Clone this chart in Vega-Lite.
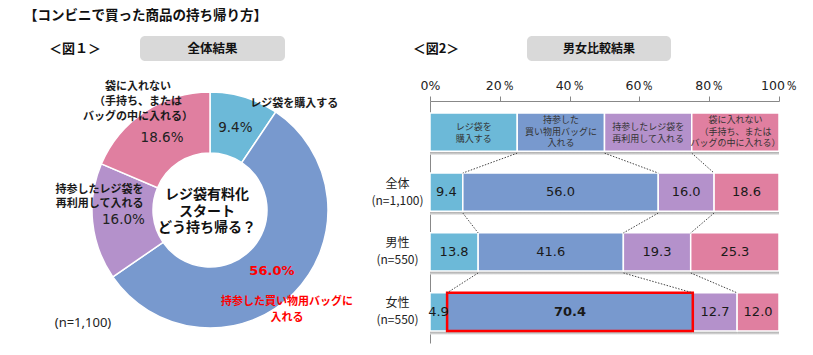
{
  "$schema": "https://vega.github.io/schema/vega-lite/v6.json",
  "background": "white",
  "padding": {"left": 10, "top": 8, "right": 5, "bottom": 5},
  "title": {"text": "【コンビニで買った商品の持ち帰り方】", "anchor": "start", "frame": "group", "font": "Noto Sans CJK JP", "fontSize": 13.5, "fontWeight": "bold", "color": "#111", "offset": 14, "dx": 14},
  "bounds": "flush",
  "spacing": 65,
  "vconcat": [
    {
      "hconcat": [
        {
          "width": 130, "height": 25,
          "data": {"values": [{"t": "＜図１＞"}]},
          "mark": {"type": "text", "font": "Noto Sans CJK JP", "fontSize": 13, "fontWeight": "bold", "color": "#111"},
          "encoding": {"text": {"field": "t", "type": "nominal"}}
        },
        {
          "width": 145, "height": 25,
          "data": {"values": [{"t": "全体結果"}]},
          "layer": [
            {"mark": {"type": "rect", "fill": "#d9d9d9", "cornerRadius": 5},
             "encoding": {"x": {"value": 0}, "x2": {"value": "width"}, "y": {"value": 0}, "y2": {"value": "height"}}},
            {"mark": {"type": "text", "font": "Noto Sans CJK JP", "fontSize": 12.5, "fontWeight": "bold", "color": "#111"},
             "encoding": {"text": {"field": "t", "type": "nominal"}}}
          ]
        },
        {
          "width": 242, "height": 25,
          "data": {"values": [{"t": "＜図2＞"}]},
          "mark": {"type": "text", "font": "Noto Sans CJK JP", "fontSize": 13, "fontWeight": "bold", "color": "#111", "dx": 30},
          "encoding": {"text": {"field": "t", "type": "nominal"}}
        },
        {
          "width": 144, "height": 25,
          "data": {"values": [{"t": "男女比較結果"}]},
          "layer": [
            {"mark": {"type": "rect", "fill": "#d9d9d9", "cornerRadius": 5},
             "encoding": {"x": {"value": 0}, "x2": {"value": "width"}, "y": {"value": 0}, "y2": {"value": "height"}}},
            {"mark": {"type": "text", "font": "Noto Sans CJK JP", "fontSize": 12, "fontWeight": "bold", "color": "#111"},
             "encoding": {"text": {"field": "t", "type": "nominal"}}}
          ]
        }
      ],
      "spacing": 0,
      "bounds": "flush"
    },
    {
      "hconcat": [
        {
          "width": 400, "height": 218,
          "data": {"values": [
            {"cat": "レジ袋を購入する", "k": 1, "value": 9.4, "lbl": "レジ袋を購入する"},
            {"cat": "持参した買い物用バッグに入れる", "k": 2, "value": 56.0, "lbl": "持参した買い物用バッグに\n入れる"},
            {"cat": "持参したレジ袋を再利用して入れる", "k": 3, "value": 16.0, "lbl": "持参したレジ袋を\n再利用して入れる"},
            {"cat": "袋に入れない（手持ち、またはバッグの中に入れる）", "k": 4, "value": 18.6, "lbl": "袋に入れない\n（手持ち、または\nバッグの中に入れる）"}
          ]},
          "transform": [{"calculate": "format(datum.value, '.1f') + '%'", "as": "pct"}],
          "layer": [
            {
              "mark": {"type": "arc", "innerRadius": 57, "outerRadius": 118, "stroke": "white", "strokeWidth": 1.5},
              "encoding": {
                "theta": {"field": "value", "type": "quantitative", "stack": true},
                "order": {"field": "k", "type": "quantitative"},
                "color": {"field": "cat", "type": "nominal", "legend": null,
                  "scale": {"domain": ["レジ袋を購入する", "持参した買い物用バッグに入れる", "持参したレジ袋を再利用して入れる", "袋に入れない（手持ち、またはバッグの中に入れる）"],
                            "range": ["#6CB9D8", "#7899CE", "#B491CB", "#E07FA0"]}}
              }
            },
            {
              "mark": {"type": "text", "radius": 87, "font": "DejaVu Sans", "fontSize": 13.5, "color": "#222", "align": "center", "baseline": "middle", "dy": 1},
              "encoding": {
                "theta": {"field": "value", "type": "quantitative", "stack": true},
                "order": {"field": "k", "type": "quantitative"},
                "detail": {"field": "cat", "type": "nominal"},
                "text": {"condition": {"test": "datum.k != 2", "field": "pct", "type": "nominal"}, "value": ""}
              }
            },
            {
              "mark": {"type": "text", "radius": 87, "font": "DejaVu Sans", "fontSize": 13, "fontWeight": "bold", "color": "#ff0000", "align": "center", "baseline": "middle"},
              "encoding": {
                "theta": {"field": "value", "type": "quantitative", "stack": true},
                "order": {"field": "k", "type": "quantitative"},
                "detail": {"field": "cat", "type": "nominal"},
                "text": {"condition": {"test": "datum.k == 2", "field": "pct", "type": "nominal"}, "value": ""}
              }
            },
            {
              "mark": {"type": "text", "radius": 87, "font": "Noto Sans CJK JP", "fontSize": 11, "fontWeight": "bold", "color": "#1a1a1a", "align": "left", "baseline": "middle", "dx": 15, "dy": -23, "lineBreak": "\n"},
              "encoding": {
                "theta": {"field": "value", "type": "quantitative", "stack": true},
                "order": {"field": "k", "type": "quantitative"},
                "detail": {"field": "cat", "type": "nominal"},
                "text": {"condition": {"test": "datum.k == 1", "field": "lbl", "type": "nominal"}, "value": ""}
              }
            },
            {
              "mark": {"type": "text", "radius": 87, "font": "Noto Sans CJK JP", "fontSize": 11, "fontWeight": "bold", "color": "#ff0000", "align": "center", "baseline": "top", "dx": 15, "dy": 25, "lineHeight": 16, "lineBreak": "\n"},
              "encoding": {
                "theta": {"field": "value", "type": "quantitative", "stack": true},
                "order": {"field": "k", "type": "quantitative"},
                "detail": {"field": "cat", "type": "nominal"},
                "text": {"condition": {"test": "datum.k == 2", "field": "lbl", "type": "nominal"}, "value": ""}
              }
            },
            {
              "mark": {"type": "text", "radius": 87, "font": "Noto Sans CJK JP", "fontSize": 11, "fontWeight": "bold", "color": "#1a1a1a", "align": "right", "baseline": "middle", "dx": 20, "dy": -29, "lineHeight": 14, "lineBreak": "\n"},
              "encoding": {
                "theta": {"field": "value", "type": "quantitative", "stack": true},
                "order": {"field": "k", "type": "quantitative"},
                "detail": {"field": "cat", "type": "nominal"},
                "text": {"condition": {"test": "datum.k == 3", "field": "lbl", "type": "nominal"}, "value": ""}
              }
            },
            {
              "mark": {"type": "text", "radius": 87, "font": "Noto Sans CJK JP", "fontSize": 11, "fontWeight": "bold", "color": "#1a1a1a", "align": "center", "baseline": "middle", "dx": -24, "dy": -50, "lineHeight": 15, "lineBreak": "\n"},
              "encoding": {
                "theta": {"field": "value", "type": "quantitative", "stack": true},
                "order": {"field": "k", "type": "quantitative"},
                "detail": {"field": "cat", "type": "nominal"},
                "text": {"condition": {"test": "datum.k == 4", "field": "lbl", "type": "nominal"}, "value": ""}
              }
            },
            {
              "data": {"values": [{"t": "レジ袋有料化\nスタート\nどう持ち帰る？"}]},
              "mark": {"type": "text", "font": "Noto Sans CJK JP", "fontSize": 14, "fontWeight": "bold", "color": "#111", "align": "center", "baseline": "middle", "dx": -3, "dy": -15, "lineHeight": 16.5, "lineBreak": "\n"},
              "encoding": {"text": {"field": "t", "type": "nominal"}}
            },
            {
              "data": {"values": [{"t": "(n=1,100)"}]},
              "mark": {"type": "text", "font": "Noto Sans", "fontSize": 13, "color": "#222", "align": "center", "baseline": "middle", "dx": -127, "dy": 113},
              "encoding": {"text": {"field": "t", "type": "nominal"}}
            }
          ]
        },
        {
          "width": 349, "height": 242,
          "data": {"values": [
            {"row": "header", "cat": "レジ袋を購入する", "k": 1, "value": 25, "hl": "レジ袋を\n購入する"},
            {"row": "header", "cat": "持参した買い物用バッグに入れる", "k": 2, "value": 25, "hl": "持参した\n買い物用バッグに\n入れる"},
            {"row": "header", "cat": "持参したレジ袋を再利用して入れる", "k": 3, "value": 25, "hl": "持参したレジ袋を\n再利用して入れる"},
            {"row": "header", "cat": "袋に入れない（手持ち、またはバッグの中に入れる）", "k": 4, "value": 25, "hl": "袋に入れない\n（手持ち、または\nバッグの中に入れる）"},
            {"row": "全体", "cat": "レジ袋を購入する", "k": 1, "value": 9.4},
            {"row": "全体", "cat": "持参した買い物用バッグに入れる", "k": 2, "value": 56.0},
            {"row": "全体", "cat": "持参したレジ袋を再利用して入れる", "k": 3, "value": 16.0},
            {"row": "全体", "cat": "袋に入れない（手持ち、またはバッグの中に入れる）", "k": 4, "value": 18.6},
            {"row": "男性", "cat": "レジ袋を購入する", "k": 1, "value": 13.8},
            {"row": "男性", "cat": "持参した買い物用バッグに入れる", "k": 2, "value": 41.6},
            {"row": "男性", "cat": "持参したレジ袋を再利用して入れる", "k": 3, "value": 19.3},
            {"row": "男性", "cat": "袋に入れない（手持ち、またはバッグの中に入れる）", "k": 4, "value": 25.3},
            {"row": "女性", "cat": "レジ袋を購入する", "k": 1, "value": 4.9},
            {"row": "女性", "cat": "持参した買い物用バッグに入れる", "k": 2, "value": 70.4},
            {"row": "女性", "cat": "持参したレジ袋を再利用して入れる", "k": 3, "value": 12.7},
            {"row": "女性", "cat": "袋に入れない（手持ち、またはバッグの中に入れる）", "k": 4, "value": 12.0}
          ]},
          "layer": [
            {
              "mark": {"type": "bar", "yOffset": 3.5,
                "fill": {"gradient": "linear", "x1": 0, "y1": 0, "x2": 0, "y2": 1, "stops": [{"offset": 0, "color": "#999999"}, {"offset": 0.9, "color": "#999999"}, {"offset": 1, "color": "#e0e0e0"}]}},
              "encoding": {
                "y": {"field": "row", "type": "nominal", "scale": {"domain": ["header", "全体", "男性", "女性"], "paddingInner": 0.36, "paddingOuter": 0.2},
                  "axis": {"title": null, "ticks": false, "tickSize": 0, "domainColor": "#888", "labelAlign": "center", "labelBaseline": "middle", "labelPadding": 33, "labelOffset": -8.5,
                    "labelFont": "Noto Sans CJK JP", "labelFontSize": 12, "labelColor": "#222", "labelLineHeight": 17,
                    "labelExpr": "datum.value == 'header' ? '' : (datum.value == '全体' ? ['全体', '(n=1,100)'] : [datum.value, '(n=550)'])"}},
                "x": {"field": "value", "type": "quantitative", "stack": "zero", "scale": {"domain": [0, 100], "nice": false},
                  "axis": {"orient": "top", "title": null, "values": [0, 20, 40, 60, 80, 100], "grid": false, "tickSize": 5, "tickColor": "#888", "domainColor": "#888",
                    "labelPadding": 4, "labelFont": "DejaVu Sans", "labelFontSize": 12.5, "labelColor": "#222", "labelFlush": false,
                    "labelExpr": "datum.value == 0 ? '0%' : datum.value + '％'"}},
                "order": {"field": "k", "type": "quantitative"},
                "detail": {"field": "cat", "type": "nominal"}
              }
            },
            {
              "mark": {"type": "bar", "stroke": "white", "strokeWidth": 1.5},
              "encoding": {
                "y": {"field": "row", "type": "nominal"},
                "x": {"field": "value", "type": "quantitative", "stack": "zero"},
                "order": {"field": "k", "type": "quantitative"},
                "color": {"field": "cat", "type": "nominal", "legend": null,
                  "scale": {"domain": ["レジ袋を購入する", "持参した買い物用バッグに入れる", "持参したレジ袋を再利用して入れる", "袋に入れない（手持ち、またはバッグの中に入れる）"],
                            "range": ["#6CB9D8", "#7899CE", "#B491CB", "#E07FA0"]}}
              }
            },
            {
              "mark": {"type": "bar", "fillOpacity": 0, "stroke": "#ff0000", "strokeWidth": 2.5},
              "encoding": {
                "y": {"field": "row", "type": "nominal"},
                "x": {"field": "value", "type": "quantitative", "stack": "zero"},
                "order": {"field": "k", "type": "quantitative"},
                "detail": {"field": "cat", "type": "nominal"},
                "strokeOpacity": {"condition": {"test": "datum.row == '女性' && datum.k == 2", "value": 1}, "value": 0}
              }
            },
            {
              "mark": {"type": "text", "font": "Noto Sans CJK JP", "fontSize": 9, "color": "#333", "align": "center", "baseline": "middle", "lineHeight": 12, "lineBreak": "\n", "dy": -5},
              "encoding": {
                "y": {"field": "row", "type": "nominal"},
                "x": {"field": "value", "type": "quantitative", "stack": "zero", "bandPosition": 0.5},
                "order": {"field": "k", "type": "quantitative"},
                "detail": {"field": "cat", "type": "nominal"},
                "text": {"condition": {"test": "datum.row == 'header' && (datum.k == 1 || datum.k == 3)", "field": "hl", "type": "nominal"}, "value": ""}
              }
            },
            {
              "mark": {"type": "text", "font": "Noto Sans CJK JP", "fontSize": 9, "color": "#333", "align": "center", "baseline": "middle", "lineHeight": 11.5, "lineBreak": "\n", "dy": -12},
              "encoding": {
                "y": {"field": "row", "type": "nominal"},
                "x": {"field": "value", "type": "quantitative", "stack": "zero", "bandPosition": 0.5},
                "order": {"field": "k", "type": "quantitative"},
                "detail": {"field": "cat", "type": "nominal"},
                "text": {"condition": {"test": "datum.row == 'header' && (datum.k == 2 || datum.k == 4)", "field": "hl", "type": "nominal"}, "value": ""}
              }
            },
            {
              "mark": {"type": "text", "font": "DejaVu Sans", "fontSize": 13, "color": "#1a1a1a", "align": "center", "baseline": "middle"},
              "encoding": {
                "y": {"field": "row", "type": "nominal"},
                "x": {"field": "value", "type": "quantitative", "stack": "zero", "bandPosition": 0.5},
                "order": {"field": "k", "type": "quantitative"},
                "detail": {"field": "cat", "type": "nominal"},
                "text": {"condition": {"test": "datum.row != 'header' && !(datum.row == '女性' && datum.k == 2)", "field": "value", "type": "quantitative", "format": ".1f"}, "value": ""}
              }
            },
            {
              "mark": {"type": "text", "font": "DejaVu Sans", "fontSize": 13, "fontWeight": "bold", "color": "#1a1a1a", "align": "center", "baseline": "middle"},
              "encoding": {
                "y": {"field": "row", "type": "nominal"},
                "x": {"field": "value", "type": "quantitative", "stack": "zero", "bandPosition": 0.5},
                "order": {"field": "k", "type": "quantitative"},
                "detail": {"field": "cat", "type": "nominal"},
                "text": {"condition": {"test": "datum.row == '女性' && datum.k == 2", "field": "value", "type": "quantitative", "format": ".1f"}, "value": ""}
              }
            },
            {
              "data": {"values": [
                {"from": "header", "to": "全体", "a": 25, "b": 9.4},
                {"from": "header", "to": "全体", "a": 50, "b": 65.4},
                {"from": "header", "to": "全体", "a": 75, "b": 81.4},
                {"from": "全体", "to": "男性", "a": 9.4, "b": 13.8},
                {"from": "全体", "to": "男性", "a": 65.4, "b": 55.4},
                {"from": "全体", "to": "男性", "a": 81.4, "b": 74.7},
                {"from": "男性", "to": "女性", "a": 13.8, "b": 4.9},
                {"from": "男性", "to": "女性", "a": 55.4, "b": 75.3},
                {"from": "男性", "to": "女性", "a": 74.7, "b": 88.0}
              ]},
              "mark": {"type": "rule", "color": "#444", "strokeWidth": 1, "strokeDash": [1.5, 1.5], "yOffset": 21, "y2Offset": -19},
              "encoding": {
                "y": {"field": "from", "type": "nominal"},
                "y2": {"field": "to"},
                "x": {"field": "a", "type": "quantitative"},
                "x2": {"field": "b"}
              }
            }
          ]
        }
      ],
      "spacing": 20,
      "bounds": "flush"
    }
  ],
  "config": {
    "view": {"stroke": null},
    "text": {"font": "Noto Sans CJK JP"}
  }
}
